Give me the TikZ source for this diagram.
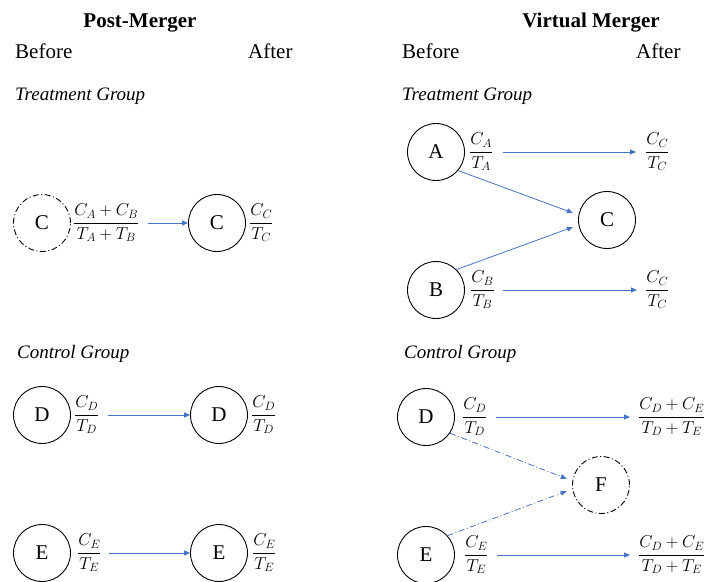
\documentclass[tikz,border=0pt]{standalone}
\usepackage{amsmath}
\usepackage{fontspec}
\setmainfont{Liberation Serif}
\usetikzlibrary{arrows.meta}
\definecolor{arrowblue}{RGB}{68,114,196}
% cost-to-target ratio with a heavier fraction bar
\newcommand{\costratio}[2]{$\genfrac{}{}{1.2pt}{0}{#1}{#2}$}
\tikzset{
  firm/.style={circle, draw=black, line width=0.9pt, minimum size=57pt, inner sep=0pt,
               font=\fontsize{21}{24}\selectfont},
  virtual/.style={firm, dash pattern=on 6pt off 2.5pt on 1pt off 2.5pt},
  ratio/.style={anchor=west, inner sep=0pt, font=\fontsize{17}{20}\selectfont},
  head/.style={anchor=base, inner sep=0pt, font=\fontsize{21}{25}\selectfont\bfseries},
  phase/.style={anchor=base west, inner sep=0pt, font=\fontsize{21}{25}\selectfont},
  group/.style={anchor=base west, inner sep=0pt, font=\fontsize{19}{23}\selectfont\itshape},
  flow/.style={draw=arrowblue, line width=0.8pt, -{Triangle[length=6pt,width=5pt]}},
  virtflow/.style={flow, dash pattern=on 6pt off 2.5pt on 1pt off 2.5pt},
}
\begin{document}
\begin{tikzpicture}[x=1pt, y=-1pt]
\useasboundingbox (0,0) rectangle (704,581);

% column headings
\node[head] (hpost) at (140,27) {Post-Merger};
\node[head] (hvirt) at (591,27) {Virtual Merger};
\node[phase] (b1) at (15,58) {Before};
\node[phase] (a1) at (248,58) {After};
\node[phase] (b2) at (402,58) {Before};
\node[phase] (a2) at (636,58) {After};
\node[group] (tg1) at (15,100) {Treatment Group};
\node[group] (tg2) at (402,100) {Treatment Group};
\node[group] (cg1) at (17,358) {Control Group};
\node[group] (cg2) at (404,358) {Control Group};

% post-merger, treatment group
\node[virtual] (pc0) at (42,223) {C};
\node[ratio] (pfab) at (73,223) {\costratio{C_A+C_B}{T_A+T_B}};
\node[firm] (pc1) at (217,223) {C};
\node[ratio] (pfc) at (249,223) {\costratio{C_C}{T_C}};
\draw[flow, shorten <=9pt] (pfab.east) -- (pc1.west);

% post-merger, control group
\node[firm] (pd0) at (42,415) {D};
\node[ratio] (pfd0) at (74,415) {\costratio{C_D}{T_D}};
\node[firm] (pd1) at (219,415) {D};
\node[ratio] (pfd1) at (251,415) {\costratio{C_D}{T_D}};
\draw[flow, shorten <=9pt] (pfd0.east) -- (pd1.west);

\node[firm] (pe0) at (42,553) {E};
\node[ratio] (pfe0) at (77,553) {\costratio{C_E}{T_E}};
\node[firm] (pe1) at (219,553) {E};
\node[ratio] (pfe1) at (252,553) {\costratio{C_E}{T_E}};
\draw[flow, shorten <=7pt] (pfe0.east) -- (pe1.west);

% virtual merger, treatment group
\node[firm] (va) at (436,152) {A};
\node[ratio] (vfa) at (469,152) {\costratio{C_A}{T_A}};
\node[ratio] (vfc1) at (645,152) {\costratio{C_C}{T_C}};
\node[firm] (vc) at (607,220) {C};
\node[firm] (vb) at (436,290) {B};
\node[ratio] (vfb) at (470,290) {\costratio{C_B}{T_B}};
\node[ratio] (vfc2) at (645,290) {\costratio{C_C}{T_C}};
\draw[flow, shorten <=10pt, shorten >=9pt] (vfa.east) -- (vfc1.west);
\draw[flow, shorten <=8pt, shorten >=8pt] (vfb.east) -- (vfc2.west);
\draw[flow, shorten >=6pt] (va.-40) -- (vc.170);
\draw[flow, shorten >=6pt] (vb.45) -- (vc.190);

% virtual merger, control group
\node[firm] (vd) at (426,417) {D};
\node[ratio] (vfd) at (462,417) {\costratio{C_D}{T_D}};
\node[ratio] (vfde1) at (638,417) {\costratio{C_D+C_E}{T_D+T_E}};
\node[virtual] (vf) at (601,485) {F};
\node[firm] (ve) at (426,555) {E};
\node[ratio] (vfe) at (464,555) {\costratio{C_E}{T_E}};
\node[ratio] (vfde2) at (638,555) {\costratio{C_D+C_E}{T_D+T_E}};
\draw[flow, shorten <=9pt, shorten >=8pt] (vfd.east) -- (vfde1.west);
\draw[flow, shorten <=8pt, shorten >=8pt] (vfe.east) -- (vfde2.west);
\draw[virtflow, shorten >=6pt] (vd.-34) -- (vf.172);
\draw[virtflow, shorten >=6pt] (ve.42) -- (vf.188);
\end{tikzpicture}
\end{document}
